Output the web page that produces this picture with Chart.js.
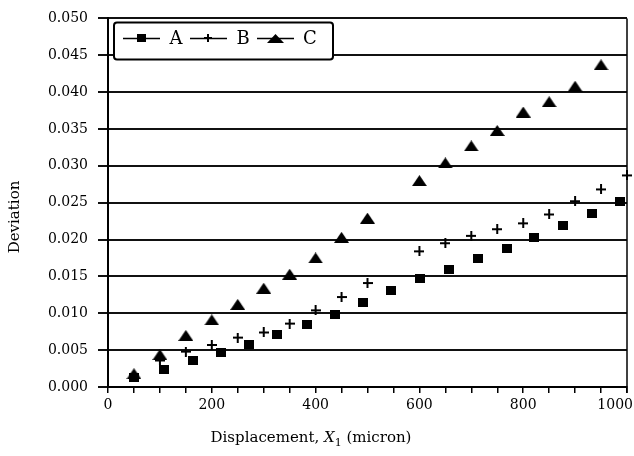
<!DOCTYPE html>
<html>
<head>
<meta charset="utf-8">
<title>Deviation vs Displacement</title>
<script src="https://cdn.jsdelivr.net/npm/chart.js@4.4.1/dist/chart.umd.min.js"></script>
<style>
  html, body { margin: 0; padding: 0; background: #fff; }
  #chart { display: block; }
</style>
</head>
<body>
<canvas id="chart" width="634" height="456"></canvas>
<script>
// ----- Data -----
const seriesNames = ["A", "B", "C"];

const xA = [50, 107, 163, 217, 272, 325, 384, 438, 492, 546, 601, 657, 712, 768, 821, 876, 932, 986];
const yA = [0.0013, 0.0024, 0.0036, 0.0047, 0.0058, 0.0071, 0.0085, 0.0099, 0.0115, 0.0131, 0.0147, 0.0160, 0.0174, 0.0188, 0.0203, 0.0219, 0.0235, 0.0252];

const xB = [100, 150, 200, 250, 300, 350, 400, 450, 500, 600, 650, 700, 750, 800, 850, 900, 950, 1000];
const yB = [0.0036, 0.0048, 0.0057, 0.0067, 0.0074, 0.0086, 0.0104, 0.0122, 0.0141, 0.0184, 0.0195, 0.0205, 0.0214, 0.0222, 0.0234, 0.0252, 0.0268, 0.0287];

const xC = [50, 100, 150, 200, 250, 300, 350, 400, 450, 500, 600, 650, 700, 750, 800, 850, 900, 950];
const yC = [0.0018, 0.0044, 0.0070, 0.0091, 0.0112, 0.0134, 0.0153, 0.0175, 0.0203, 0.0229, 0.0280, 0.0304, 0.0327, 0.0348, 0.0373, 0.0387, 0.0408, 0.0437];

const xTickLabels = [0, 200, 400, 600, 800, 1000];
const xTitle = ["Displacement, ", "X", "1", " (micron)"];
const yTitle = "Deviation";

const FONT = "'DejaVu Serif', 'Liberation Serif', serif";

// ----- Markers -----
function makeMarker(kind, w, h) {
  const c = document.createElement("canvas");
  c.width = w;
  c.height = h;
  const ctx = c.getContext("2d");
  ctx.fillStyle = "#000";
  if (kind === "square") {
    ctx.fillRect(0, 0, w, h);
  } else if (kind === "triangle") {
    ctx.beginPath();
    ctx.moveTo(0, h);
    ctx.lineTo(w / 2, 0);
    ctx.lineTo(w, h);
    ctx.closePath();
    ctx.fill();
  } else if (kind === "plus") {
    ctx.fillRect(0, h / 2 - 1, w, 2);
    ctx.fillRect(w / 2 - 1, 0, 2, h);
  }
  return c;
}

const markers = {
  A: makeMarker("square", 10, 9),
  B: makeMarker("plus", 10, 10),
  C: makeMarker("triangle", 15, 11),
};
const legendMarkers = {
  A: makeMarker("square", 9, 8),
  B: makeMarker("plus", 8, 8),
  C: makeMarker("triangle", 17, 9),
};

function toPoints(xs, ys) {
  return xs.map((x, i) => ({ x: x, y: ys[i] }));
}

// ----- Plugins: frame, legend, titles -----
const framePlugin = {
  id: "frame",
  afterDraw(chart) {
    const { ctx, chartArea: a } = chart;
    ctx.save();
    ctx.strokeStyle = "#000";
    ctx.lineWidth = 1.5;
    ctx.beginPath();
    ctx.moveTo(a.right, a.top);
    ctx.lineTo(a.right, a.bottom + 6);
    ctx.stroke();
    ctx.restore();
  },
};

const legendPlugin = {
  id: "lineLegend",
  afterDraw(chart) {
    const { ctx, chartArea: a } = chart;
    const left = a.left + 6, top = a.top + 4, w = 219, h = 37, r = 3;
    ctx.save();
    ctx.beginPath();
    ctx.moveTo(left + r, top);
    ctx.lineTo(left + w - r, top);
    ctx.arcTo(left + w, top, left + w, top + r, r);
    ctx.lineTo(left + w, top + h - r);
    ctx.arcTo(left + w, top + h, left + w - r, top + h, r);
    ctx.lineTo(left + r, top + h);
    ctx.arcTo(left, top + h, left, top + h - r, r);
    ctx.lineTo(left, top + r);
    ctx.arcTo(left, top, left + r, top, r);
    ctx.closePath();
    ctx.fillStyle = "#fff";
    ctx.fill();
    ctx.strokeStyle = "#000";
    ctx.lineWidth = 2;
    ctx.stroke();

    const cy = top + 16;
    ctx.font = "18px " + FONT;
    ctx.textAlign = "center";
    ctx.textBaseline = "middle";
    ctx.fillStyle = "#000";
    ctx.lineWidth = 1.5;
    seriesNames.forEach((name, i) => {
      const x0 = left + 9 + i * 67;
      ctx.beginPath();
      ctx.moveTo(x0, cy);
      ctx.lineTo(x0 + 37, cy);
      ctx.stroke();
      const m = legendMarkers[name];
      ctx.drawImage(m, Math.round(x0 + 18 - m.width / 2), Math.round(cy - m.height / 2));
      ctx.fillText(name, x0 + 53, cy + 1);
    });
    ctx.restore();
  },
};

const titlePlugin = {
  id: "axisTitles",
  afterDraw(chart) {
    const { ctx } = chart;
    const xScale = chart.scales.x;
    ctx.save();
    ctx.fillStyle = "#000";

    // last x tick label sits flush with the picture edge
    ctx.font = "14px " + FONT;
    ctx.textAlign = "right";
    ctx.textBaseline = "middle";
    ctx.fillText(String(xTickLabels[xTickLabels.length - 1]), chart.width - 1, xScale.top + 6 + 4 + 8.4);

    // x title with italic X and subscript 1
    const normal = "15px " + FONT;
    const italic = "italic 15px " + FONT;
    const sub = "11px " + FONT;
    const parts = [
      { t: xTitle[0], f: normal, dy: 0 },
      { t: xTitle[1], f: italic, dy: 0 },
      { t: xTitle[2], f: sub, dy: 4 },
      { t: xTitle[3], f: normal, dy: 0 },
    ];
    let total = 0;
    parts.forEach((p) => {
      ctx.font = p.f;
      p.w = ctx.measureText(p.t).width;
      total += p.w;
    });
    let x = 311 - total / 2;
    ctx.textAlign = "left";
    ctx.textBaseline = "alphabetic";
    parts.forEach((p) => {
      ctx.font = p.f;
      ctx.fillText(p.t, x, 442 + p.dy);
      x += p.w;
    });

    // y title
    ctx.translate(15, 217);
    ctx.rotate(-Math.PI / 2);
    ctx.font = "15px " + FONT;
    ctx.textAlign = "center";
    ctx.textBaseline = "middle";
    ctx.fillText(yTitle, 0, 0);
    ctx.restore();
  },
};

// ----- Chart -----
function buildChart() {
  const ctx = document.getElementById("chart").getContext("2d");
  const seriesX = [xA, xB, xC];
  const seriesY = [yA, yB, yC];

  new Chart(ctx, {
    type: "scatter",
    data: {
      datasets: seriesNames.map((name, i) => ({
        label: name,
        data: toPoints(seriesX[i], seriesY[i]),
        pointStyle: markers[name],
        pointRadius: 5,
        pointHoverRadius: 5,
        showLine: false,
        clip: false,
      })),
    },
    options: {
      responsive: false,
      animation: false,
      events: [],
      layout: { padding: { top: 17, right: 7, left: 0, bottom: 0 } },
      plugins: {
        legend: { display: false },
        tooltip: { enabled: false },
      },
      scales: {
        x: {
          type: "linear",
          min: 0,
          max: 1000,
          ticks: {
            stepSize: 50,
            autoSkip: false,
            maxRotation: 0,
            padding: 4,
            color: "#000",
            font: { family: FONT, size: 14 },
            callback: (v) =>
              xTickLabels.includes(v) && v !== xTickLabels[xTickLabels.length - 1] ? String(v) : "",
          },
          grid: {
            drawOnChartArea: false,
            drawTicks: true,
            tickLength: 6,
            color: "#000",
            lineWidth: 1.5,
          },
          border: { color: "#000", width: 2 },
          afterFit: (scale) => {
            scale.height = 69;
            scale.paddingLeft = 0;
            scale.paddingRight = 0;
          },
        },
        y: {
          min: 0,
          max: 0.05,
          ticks: {
            stepSize: 0.005,
            padding: 10,
            color: "#000",
            font: { family: FONT, size: 14 },
            callback: (v) => v.toFixed(3),
          },
          grid: {
            color: "#111",
            lineWidth: 2,
            tickLength: 10,
          },
          border: { color: "#000", width: 2 },
          afterFit: (scale) => {
            scale.width = 108;
          },
        },
      },
    },
    plugins: [framePlugin, legendPlugin, titlePlugin],
  });
}

document.addEventListener("DOMContentLoaded", buildChart);
</script>
</body>
</html>
